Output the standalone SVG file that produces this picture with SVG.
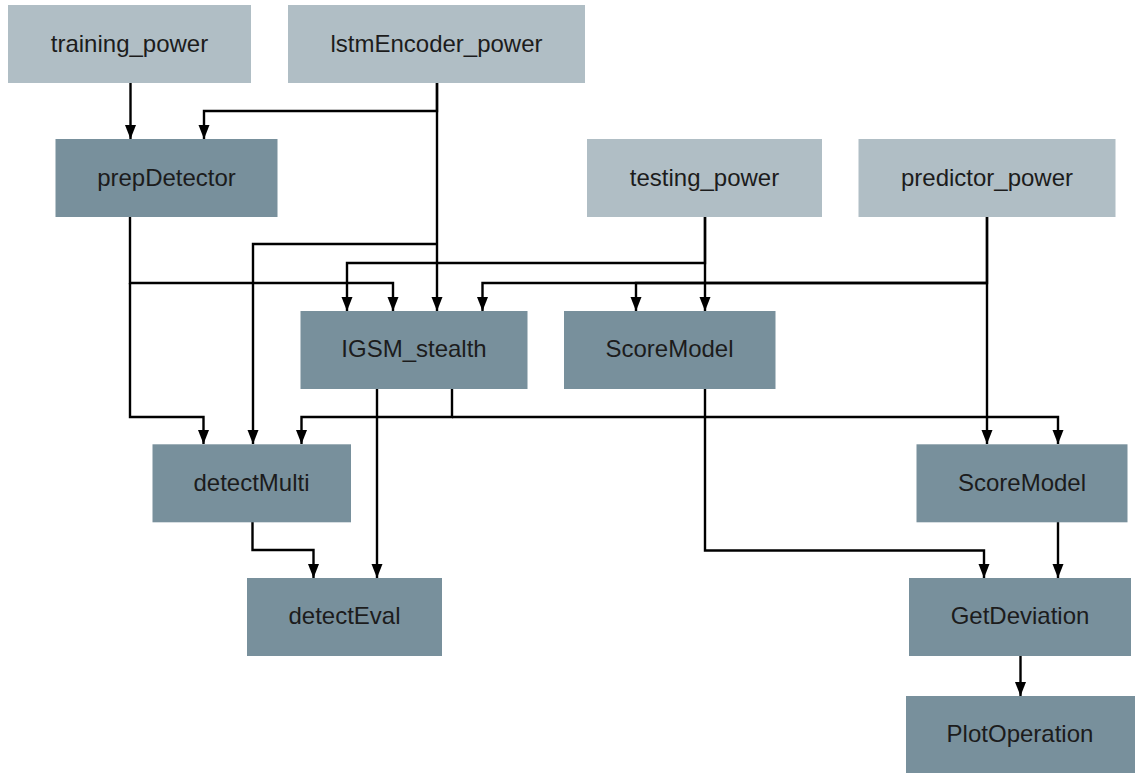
<svg xmlns="http://www.w3.org/2000/svg" width="1135" height="773" viewBox="0 0 1135 773">
<style>
.src{fill:#b0bec5}
.op{fill:#78909c}
.lbl{font-family:"Liberation Sans",Arial,sans-serif;font-size:24px;fill:#1c1c1c;text-anchor:middle}
.e{fill:none;stroke:#000;stroke-width:2.4;marker-end:url(#ah)}
</style>
<defs>
<marker id="ah" markerUnits="userSpaceOnUse" markerWidth="15" markerHeight="12" refX="14" refY="6" orient="auto">
<path d="M0,0.5 L14,6 L0,11.5 z" fill="#000"/>
</marker>
</defs>
<rect width="1135" height="773" fill="#fff"/>
<g id="connectors">
<path class="e" d="M130.5,83 V139"/>
<path class="e" d="M437,83 V111 H204 V139"/>
<path class="e" d="M437,83 V311"/>
<path class="e" d="M437,244 H253 V444"/>
<path class="e" d="M130,217 V283 H393 V311"/>
<path class="e" d="M130,283 V417 H203.5 V444"/>
<path class="e" d="M705,217 V263 H347 V311"/>
<path class="e" d="M705,217 V311"/>
<path class="e" d="M987,217 V283 H482.5 V311"/>
<path class="e" d="M987,283 H636 V311"/>
<path class="e" d="M987,217 V444"/>
<path class="e" d="M452,389 V417 H301.5 V444"/>
<path class="e" d="M452,417 H1058 V444"/>
<path class="e" d="M377,389 V578"/>
<path class="e" d="M705,389 V550.5 H984 V578"/>
<path class="e" d="M1058,522 V578"/>
<path class="e" d="M252.5,522 V550 H313.5 V578"/>
<path class="e" d="M1020.5,656 V696"/>
</g>
<g id="training_power"><rect class="src" x="8" y="5" width="243" height="78"/><text class="lbl" x="129.5" y="51.5">training_power</text></g>
<g id="lstmEncoder_power"><rect class="src" x="288" y="5" width="297" height="78"/><text class="lbl" x="436.5" y="51.5">lstmEncoder_power</text></g>
<g id="prepDetector"><rect class="op" x="55.5" y="139" width="222" height="78"/><text class="lbl" x="166.5" y="185.5">prepDetector</text></g>
<g id="testing_power"><rect class="src" x="587" y="139" width="235" height="78"/><text class="lbl" x="704.5" y="185.5">testing_power</text></g>
<g id="predictor_power"><rect class="src" x="858.5" y="139" width="257" height="78"/><text class="lbl" x="987" y="185.5">predictor_power</text></g>
<g id="IGSM_stealth"><rect class="op" x="300.5" y="311" width="227" height="78"/><text class="lbl" x="414" y="357">IGSM_stealth</text></g>
<g id="ScoreModel1"><rect class="op" x="564" y="311" width="211.5" height="78"/><text class="lbl" x="669.5" y="357">ScoreModel</text></g>
<g id="detectMulti"><rect class="op" x="152.5" y="444.3" width="198.5" height="78"/><text class="lbl" x="251.5" y="490.5">detectMulti</text></g>
<g id="ScoreModel2"><rect class="op" x="916.5" y="444.3" width="211" height="78"/><text class="lbl" x="1022" y="490.5">ScoreModel</text></g>
<g id="detectEval"><rect class="op" x="247" y="578" width="195" height="78"/><text class="lbl" x="344.5" y="624">detectEval</text></g>
<g id="GetDeviation"><rect class="op" x="909" y="578" width="222" height="78"/><text class="lbl" x="1020" y="624">GetDeviation</text></g>
<g id="PlotOperation"><rect class="op" x="906" y="696" width="229" height="78"/><text class="lbl" x="1020" y="742">PlotOperation</text></g>
</svg>
